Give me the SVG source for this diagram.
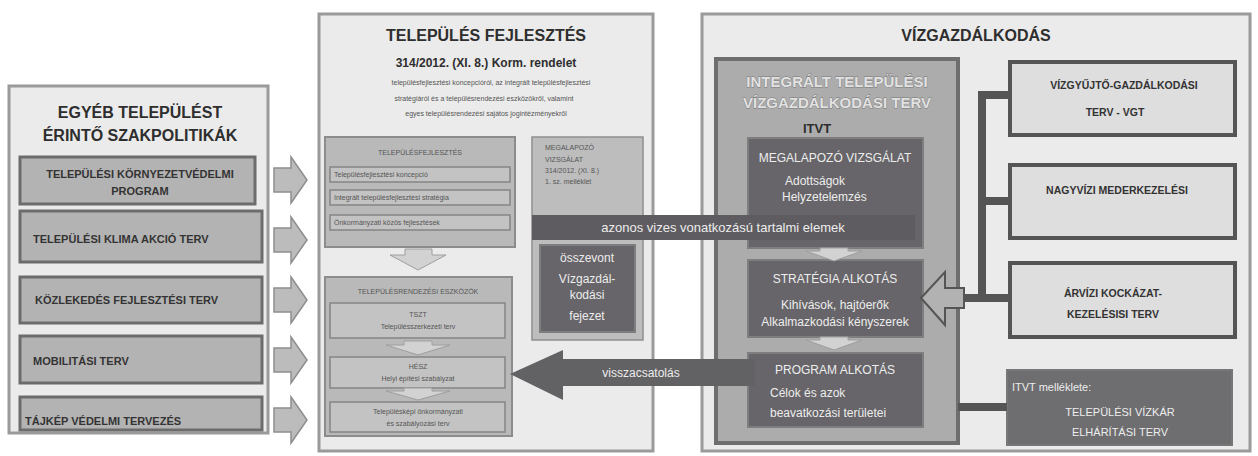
<svg xmlns="http://www.w3.org/2000/svg" width="1258" height="456" viewBox="0 0 1258 456">
<style>
text{font-family:"Liberation Sans",Arial,sans-serif}
.panel{fill:#ebebeb;stroke:#9a9a9a;stroke-width:3}
.lbox{fill:#b3b3b3;stroke:#6c6c6c;stroke-width:3}
.ltxt{font-size:11px;font-weight:bold;fill:#333}
.ttl{font-weight:bold;fill:#2e2e2e}
.mbox{fill:#b9b9b9;stroke:#8c8c8c;stroke-width:2}
.sbox{fill:#c3c3c3;stroke:#858585;stroke-width:1.5}
.tiny{font-size:7px;fill:#555}
.dark{fill:#676569;stroke:#7e7e7e;stroke-width:2}
.wt{fill:#ededed}
.rbox{fill:#dedede;stroke:#555;stroke-width:4}
.rtxt{font-size:10.5px;font-weight:bold;fill:#333}
.garrow{fill:#bcbcbc;stroke:#8e8e8e;stroke-width:1.5}
.chev{fill:#d2d2d2;stroke:#9e9e9e;stroke-width:1}
.conn{stroke:#555;stroke-width:8;fill:none}
</style>

<g id="left-panel">
  <rect class="panel" x="9" y="86" width="259" height="347"/>
  <text class="ttl" font-size="16" x="140" y="118" text-anchor="middle">EGYÉB TELEPÜLÉST</text>
  <text class="ttl" font-size="16" x="140" y="141" text-anchor="middle">ÉRINTŐ SZAKPOLITIKÁK</text>
</g>
<g id="l1">
  <rect class="lbox" x="20" y="157" width="235" height="47"/>
  <text class="ltxt" x="140" y="178" text-anchor="middle">TELEPÜLÉSI KÖRNYEZETVÉDELMI</text>
  <text class="ltxt" x="140" y="195" text-anchor="middle">PROGRAM</text>
</g>
<g id="l2">
  <rect class="lbox" x="20" y="211" width="242" height="51"/>
  <text class="ltxt" x="33" y="243">TELEPÜLÉSI KLIMA AKCIÓ TERV</text>
</g>
<g id="l3">
  <rect class="lbox" x="20" y="277" width="242" height="46"/>
  <text class="ltxt" x="35" y="304">KÖZLEKEDÉS FEJLESZTÉSI TERV</text>
</g>
<g id="l4">
  <rect class="lbox" x="20" y="336" width="242" height="47"/>
  <text class="ltxt" x="33" y="365">MOBILITÁSI TERV</text>
</g>
<g id="l5">
  <rect class="lbox" x="20" y="397" width="242" height="33"/>
  <text class="ltxt" x="25" y="425">TÁJKÉP VÉDELMI TERVEZÉS</text>
</g>

<g id="middle-panel">
  <rect class="panel" x="319" y="14" width="334" height="437" fill="#e8e8e8"/>
  <text class="ttl" font-size="16" x="486" y="41" text-anchor="middle">TELEPÜLÉS FEJLESZTÉS</text>
  <text class="ttl" font-size="12" x="486" y="67" text-anchor="middle">314/2012. (XI. 8.) Korm. rendelet</text>
  <text class="tiny" x="491" y="85" text-anchor="middle">településfejlesztési koncepcióról, az integrált településfejlesztési</text>
  <text class="tiny" x="484" y="101" text-anchor="middle">stratégiáról és a településrendezési eszközökről, valamint</text>
  <text class="tiny" x="486" y="116" text-anchor="middle">egyes településrendezési sajátos jogintézményekről</text>
</g>
<g id="fejlesztes">
  <rect class="mbox" x="325" y="137" width="190" height="110"/>
  <text class="tiny" x="420" y="155" text-anchor="middle">TELEPÜLÉSFEJLESZTÉS</text>
  <rect class="sbox" x="330" y="167" width="180" height="15"/>
  <text class="tiny" x="334" y="177">Településfejlesztési koncepció</text>
  <rect class="sbox" x="330" y="190" width="180" height="15"/>
  <text class="tiny" x="334" y="200">Integrált településfejlesztési stratégia</text>
  <rect class="sbox" x="330" y="215" width="180" height="15"/>
  <text class="tiny" x="334" y="225">Önkormányzati közös fejlesztések</text>
</g>
<g id="rendezes">
  <rect class="mbox" x="325" y="277" width="187" height="159"/>
  <text class="tiny" x="418" y="294" text-anchor="middle">TELEPÜLÉSRENDEZÉSI ESZKÖZÖK</text>
  <rect class="sbox" x="330" y="303" width="175" height="35"/>
  <text class="tiny" x="418" y="317" text-anchor="middle">TSZT</text>
  <text class="tiny" x="418" y="329" text-anchor="middle">Településszerkezeti terv</text>
  <rect class="sbox" x="330" y="357" width="175" height="31"/>
  <text class="tiny" x="418" y="369" text-anchor="middle">HÉSZ</text>
  <text class="tiny" x="418" y="381" text-anchor="middle">Helyi építési szabályzat</text>
  <rect class="sbox" x="330" y="402" width="175" height="30"/>
  <text class="tiny" x="418" y="414" text-anchor="middle">Településképi önkormányzati</text>
  <text class="tiny" x="418" y="426" text-anchor="middle">és szabályozási terv</text>
</g>
<g id="megalapozo-tk">
  <rect x="532" y="137" width="111" height="203" fill="#bdbdbd" stroke="#8f8f8f" stroke-width="1.5"/>
  <text class="tiny" x="545" y="150">MEGALAPOZÓ</text>
  <text class="tiny" x="545" y="162">VIZSGÁLAT</text>
  <text class="tiny" x="545" y="173">314/2012. (XI. 8.)</text>
  <text class="tiny" x="545" y="184">1. sz. melléklet</text>
  <rect class="dark" x="540" y="245" width="95" height="87"/>
  <text class="wt" font-size="12" x="587" y="262" text-anchor="middle">összevont</text>
  <text class="wt" font-size="12" x="587" y="283" text-anchor="middle">Vízgazdál-</text>
  <text class="wt" font-size="12" x="587" y="299" text-anchor="middle">kodási</text>
  <text class="wt" font-size="12" x="587" y="320" text-anchor="middle">fejezet</text>
</g>

<g id="right-panel">
  <rect class="panel" x="702" y="14" width="548" height="437" fill="#eeeeee"/>
  <text class="ttl" font-size="16" x="976" y="41" text-anchor="middle">VÍZGAZDÁLKODÁS</text>
</g>
<g id="itvt">
  <rect x="716" y="59" width="242" height="384" fill="#acacac" stroke="#6e6e6e" stroke-width="4"/>
  <text font-size="15" font-weight="bold" x="837" y="87" text-anchor="middle" fill="#e2e2e2" stroke="#777" stroke-width="0.8" paint-order="stroke">INTEGRÁLT TELEPÜLÉSI</text>
  <text font-size="15" font-weight="bold" x="837" y="108" text-anchor="middle" fill="#e2e2e2" stroke="#777" stroke-width="0.8" paint-order="stroke">VÍZGAZDÁLKODÁSI TERV</text>
  <text class="ttl" font-size="13" x="803" y="133">ITVT</text>
</g>
<g id="megalapozo-itvt">
  <rect class="dark" x="748" y="138" width="175" height="110"/>
  <text class="wt" font-size="12" x="835" y="162" text-anchor="middle">MEGALAPOZÓ VIZSGÁLAT</text>
  <text class="wt" font-size="12" x="785" y="185">Adottságok</text>
  <text class="wt" font-size="12" x="782" y="201">Helyzetelemzés</text>
</g>
<g id="strategia">
  <rect class="dark" x="748" y="260" width="175" height="77"/>
  <text class="wt" font-size="12" x="835" y="283" text-anchor="middle">STRATÉGIA ALKOTÁS</text>
  <text class="wt" font-size="12" x="835" y="309" text-anchor="middle">Kihívások, hajtóerők</text>
  <text class="wt" font-size="12" x="835" y="326" text-anchor="middle">Alkalmazkodási kényszerek</text>
</g>
<g id="program">
  <rect class="dark" x="748" y="353" width="175" height="74"/>
  <text class="wt" font-size="12" x="835" y="374" text-anchor="middle">PROGRAM ALKOTÁS</text>
  <text class="wt" font-size="12" x="770" y="397">Célok és azok</text>
  <text class="wt" font-size="12" x="770" y="417">beavatkozási területei</text>
</g>
<g id="vgt">
  <rect class="rbox" x="1010" y="62" width="225" height="73"/>
  <text class="rtxt" x="1124" y="89" text-anchor="middle">VÍZGYŰJTŐ-GAZDÁLKODÁSI</text>
  <text class="rtxt" x="1115" y="116" text-anchor="middle">TERV - VGT</text>
</g>
<g id="nagyvizi">
  <rect class="rbox" x="1010" y="165" width="225" height="73"/>
  <text class="rtxt" x="1117" y="194" text-anchor="middle">NAGYVÍZI MEDERKEZELÉSI</text>
</g>
<g id="arvizi">
  <rect class="rbox" x="1010" y="263" width="225" height="74"/>
  <text class="rtxt" x="1113" y="297" text-anchor="middle">ÁRVÍZI KOCKÁZAT-</text>
  <text class="rtxt" x="1113" y="318" text-anchor="middle">KEZELÉSISI TERV</text>
</g>
<g id="melleklet">
  <rect x="1007" y="370" width="225" height="75" fill="#6e6d70" stroke="#777" stroke-width="2"/>
  <text class="wt" font-size="11" x="1012" y="391">ITVT melléklete:</text>
  <text class="wt" font-size="11" x="1120" y="416" text-anchor="middle">TELEPÜLÉSI VÍZKÁR</text>
  <text class="wt" font-size="11" x="1120" y="436" text-anchor="middle">ELHÁRÍTÁSI TERV</text>
</g>

<g id="connectors">
  <polygon class="garrow" points="274,168 291,168 291,157 307,180 291,203 291,192 274,192"/>
  <polygon class="garrow" points="274,228 291,228 291,217 307,240 291,263 291,252 274,252"/>
  <polygon class="garrow" points="274,288 291,288 291,277 307,300 291,323 291,312 274,312"/>
  <polygon class="garrow" points="274,348 291,348 291,337 307,360 291,383 291,372 274,372"/>
  <polygon class="garrow" points="274,408 291,408 291,397 307,420 291,443 291,432 274,432"/>
  <polygon class="chev" points="405,249 432,249 432,255 446,255 418,270 390,255 405,255"/>
  <polygon class="chev" points="404,341 432,341 432,345 450,345 418,355 386,345 404,345"/>
  <polygon class="chev" points="404,388 432,388 432,391 450,391 418,400 386,391 404,391"/>
  <polygon class="chev" points="820,248 848,248 848,251 862,251 834,261 806,251 820,251"/>
  <polygon class="chev" points="820,337 848,337 848,340 862,340 834,350 806,340 820,340"/>
  <rect x="532" y="215" width="383" height="25" fill="#5e5c60"/>
  <text class="wt" font-size="13" x="723" y="232" text-anchor="middle">azonos vizes vonatkozású tartalmi elemek</text>
  <polygon points="510,374 563,350 563,359 755,359 755,386 563,386 563,400" fill="#626163"/>
  <text class="wt" font-size="12" x="641" y="377" text-anchor="middle">visszacsatolás</text>
  <polyline class="conn" points="1010,95 982,95 982,298 1010,298"/>
  <line class="conn" x1="982" y1="201" x2="1010" y2="201"/>
  <line class="conn" x1="962" y1="298" x2="982" y2="298"/>
  <line class="conn" x1="958" y1="407" x2="1007" y2="407"/>
  <polygon points="921,298 945,272 945,288 964,288 964,308 945,308 945,325" fill="#b2b2b2" stroke="#555" stroke-width="2"/>
</g>
</svg>
